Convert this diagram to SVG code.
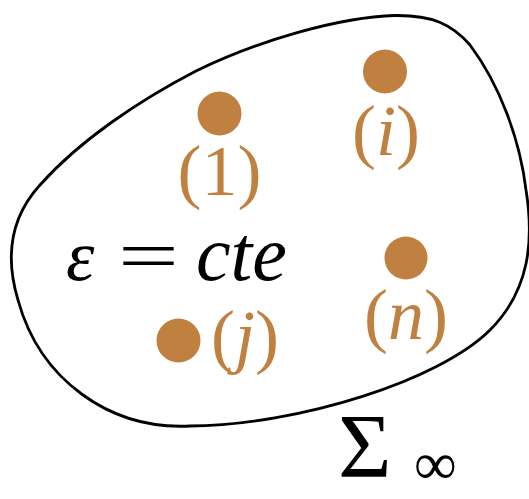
<svg xmlns="http://www.w3.org/2000/svg" width="529" height="499" viewBox="0 0 529 499">
<style>
.lbl{font-family:"Liberation Serif","DejaVu Serif",serif;font-size:72px;fill:#BF8040}
.it{font-style:italic}
.dot{fill:#BF8040}
.blk{font-family:"Liberation Serif","DejaVu Serif",serif;fill:#000}
</style>
<rect width="529" height="499" fill="#fff"/>
<g id="region">
<path d="M395,15.5 C432,15 452,24 470,45 C500,85 520,140 526,190 C534,240 530,290 490,330 C440,380 300,425 190,426 C110,430 40,380 18,300 C6,260 8,220 40,185 C80,140 140,100 196,71 C260,40 340,17 395,15.5 Z" fill="none" stroke="#000" stroke-width="2.8"/>
</g>
<g id="node1"><circle class="dot" cx="219.5" cy="113.5" r="22"/><text class="lbl" x="219.5" y="195" text-anchor="middle">(1)</text></g>
<g id="nodei"><circle class="dot" cx="385" cy="71.5" r="22"/><text class="lbl" x="386" y="155" text-anchor="middle">(<tspan class="it">i</tspan>)</text></g>
<g id="noden"><circle class="dot" cx="406" cy="258" r="21.5"/><text class="lbl" x="406" y="339" text-anchor="middle">(<tspan class="it">n</tspan>)</text></g>
<g id="nodej"><circle class="dot" cx="178.5" cy="340.5" r="22"/><text class="lbl" x="211" y="360">(<tspan class="it">j</tspan>)</text></g>
<g id="eq">
<text class="blk it" x="66" y="280" font-size="72">ε</text>
<text class="blk" transform="translate(118,280) scale(1.5,1)" x="0" y="0" font-size="72">=</text>
<text class="blk it" x="196" y="280" font-size="78">cte</text>
</g>
<g id="sigma">
<text class="blk" x="338" y="477" font-size="92">Σ</text>
<text class="blk" x="414" y="484" font-size="60">∞</text>
</g>
</svg>
